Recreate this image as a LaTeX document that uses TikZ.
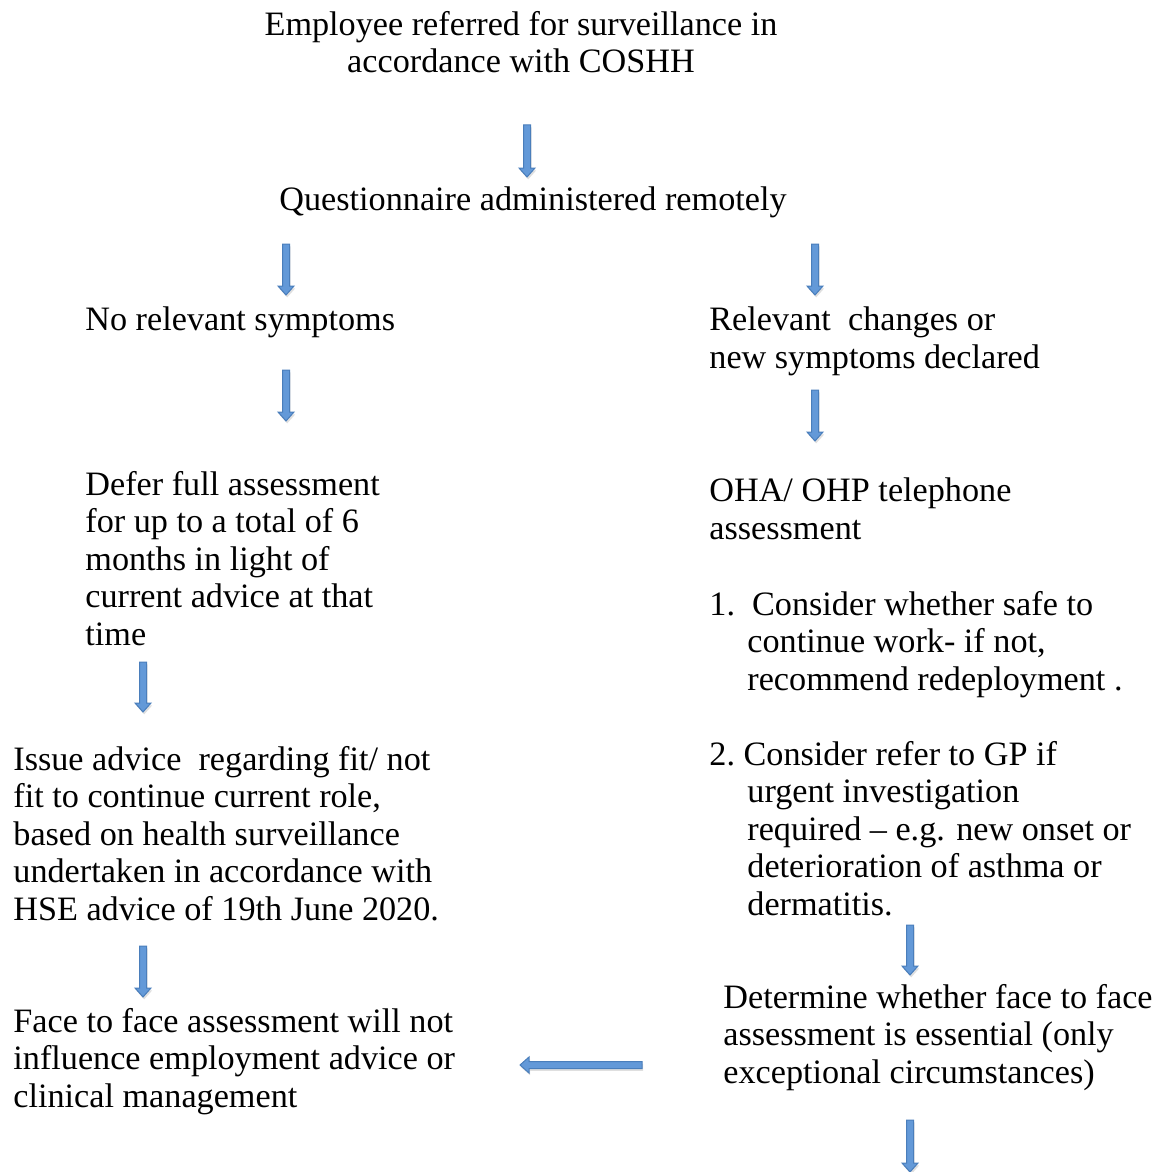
\documentclass[tikz,border=0pt]{standalone}
\usepackage{fontspec}
\setmainfont{Liberation Serif}
\usetikzlibrary{calc,shadows}
\definecolor{arrowfill}{HTML}{6399D8}
\definecolor{arrowedge}{HTML}{4A7EBB}
\tikzset{
  txt/.style={anchor=base west, inner sep=0pt, align=left, font=\fontsize{17.1}{18.75}\selectfont},
  ctxt/.style={anchor=base, inner sep=0pt, align=center, font=\fontsize{17.1}{18.75}\selectfont},
  blockarrow/.style={draw=arrowedge, fill=arrowfill, line width=0.5pt, line join=miter,
    drop shadow={opacity=0.25, shadow xshift=0.6pt, shadow yshift=-1.2pt}},
}
% down arrow: name, x, ytop, ybottom
\newcommand\downblock[4]{%
  \coordinate (#1s) at (#2,#3);
  \coordinate (#1e) at (#2,#4);
  \path[blockarrow] ($(#1s)+(-3.5,0)$) -- ($(#1s)+(3.5,0)$) -- ($(#1e)+(3.5,-9)$)
    -- ($(#1e)+(8,-9)$) -- (#1e) -- ($(#1e)+(-8,-9)$) -- ($(#1e)+(-3.5,-9)$) -- cycle;}
% left arrow: name, y, xright, xleft
\newcommand\leftblock[4]{%
  \coordinate (#1s) at (#3,#2);
  \coordinate (#1e) at (#4,#2);
  \path[blockarrow] ($(#1s)+(0,-3.5)$) -- ($(#1e)+(9,-3.5)$) -- ($(#1e)+(9,-8)$)
    -- (#1e) -- ($(#1e)+(9,8)$) -- ($(#1e)+(9,3.5)$) -- ($(#1s)+(0,3.5)$) -- cycle;}
\begin{document}
\begin{tikzpicture}[x=0.5pt,y=-0.5pt]
\useasboundingbox (0,0) rectangle (1164,1172);
\node[ctxt] (t1) at (521,73) {Employee referred for surveillance in\\accordance with COSHH};
\node[ctxt] (t2) at (533,210) {Questionnaire administered remotely};
\node[txt] (t3) at (85,330) {No relevant symptoms};
\node[txt] (t4) at (709,368) {Relevant \ changes or\\new symptoms declared};
\node[txt] (t5) at (85,645) {Defer full assessment\\for up to a total of 6\\months in light of\\current advice at that\\time};
\node[txt] (t6) at (709,539) {OHA/ OHP telephone\\assessment};
\node[txt] (t7) at (709,690) {1.\ \ Consider whether safe to\\\hspace*{19pt}continue work- if not,\\\hspace*{19pt}recommend redeployment .};
\node[txt] (t8) at (709,915) {2.\ Consider refer to GP if\\\hspace*{19pt}urgent investigation\\\hspace*{19pt}required -- e.g. new onset or\\\hspace*{19pt}deterioration of asthma or\\\hspace*{19pt}dermatitis.};
\node[txt] (t9) at (13,920) {Issue advice \ regarding fit/ not\\fit to continue current role,\\based on health surveillance\\undertaken in accordance with\\HSE advice of 19th June 2020.};
\node[txt] (t10) at (723,1083) {Determine whether face to face\\assessment is essential (only\\exceptional circumstances)};
\node[txt] (t11) at (13,1107) {Face to face assessment will not\\influence employment advice or\\clinical management};
\downblock{a1}{527}{125}{177}
\downblock{a2}{286}{244}{295}
\downblock{a3}{815}{244}{295}
\downblock{a4}{286}{370}{421}
\downblock{a5}{815}{390}{441}
\downblock{a6}{143}{662}{712}
\downblock{a7}{143}{946}{997}
\downblock{a8}{910}{925}{975}
\leftblock{a9}{1065}{642}{520}
\downblock{a10}{910}{1120}{1172}
\end{tikzpicture}
\end{document}
